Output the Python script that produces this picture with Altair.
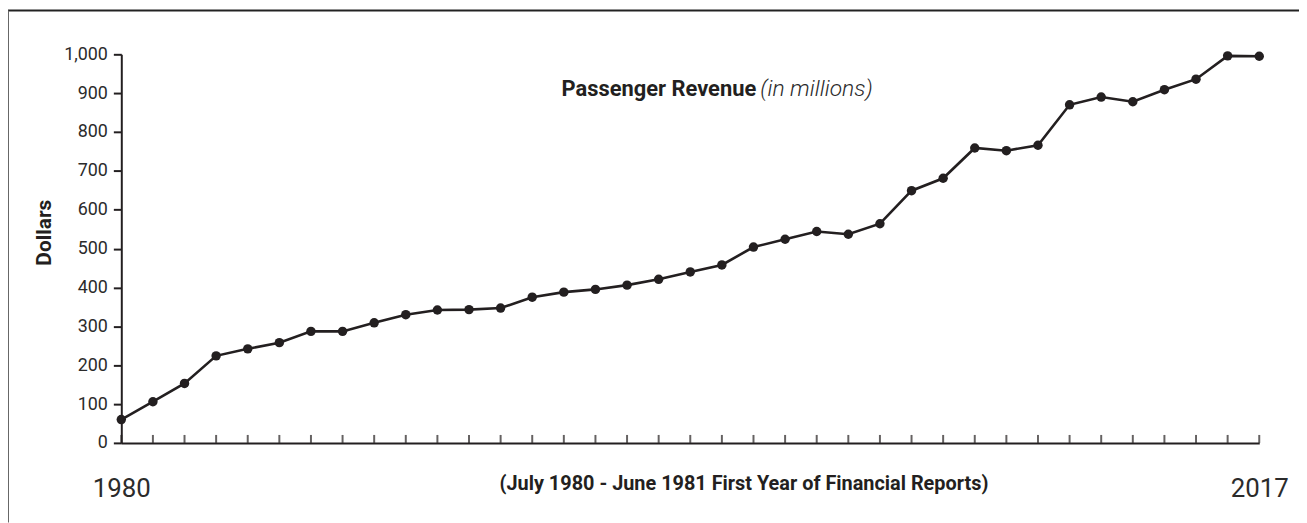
import altair as alt
import pandas as pd

# Passenger revenue (in millions of dollars), one value per fiscal year
revenue = [60, 106, 153, 224, 242, 258, 287, 287, 309, 330, 342, 343, 347,
           375, 388, 395, 406, 421, 440, 458, 504, 524, 544, 537, 564, 649,
           681, 759, 752, 766, 870, 890, 878, 909, 936, 996, 995]
period = list(range(len(revenue)))
end_labels = ["1980", "2017"]
y_ticks = [0, 100, 200, 300, 400, 500, 600, 700, 800, 900, 1000]

title_main = "Passenger Revenue"
title_sub = "(in millions)"
x_title = "(July 1980 - June 1981 First Year of Financial Reports)"
y_title = "Dollars"

INK = "#231f20"
TXT = "#2b2b2b"
FONT = "Roboto"
W, H = 1145, 391
last = period[-1]

df = pd.DataFrame({"period": period, "revenue": revenue})

x_enc = alt.X(
    "period:Q",
    scale=alt.Scale(domain=[0, last], nice=False, zero=False),
    axis=alt.Axis(
        values=[0, last],
        labelExpr=f"datum.value == 0 ? '{end_labels[0]}' : '{end_labels[1]}'",
        ticks=False, grid=False, domainColor=INK, domainWidth=2,
        labelFont=FONT, labelFontSize=26, labelFontWeight="normal", labelColor=TXT,
        labelPadding=46, labelBaseline="middle", labelFlush=False,
        title=x_title, titleX=626, titleY=41, titleAlign="center",
        titleBaseline="middle", titleFont=FONT, titleFontSize=20,
        titleFontWeight="bold", titleColor=INK,
    ),
)
y_enc = alt.Y(
    "revenue:Q",
    scale=alt.Scale(domain=[0, 1000], nice=False),
    axis=alt.Axis(
        values=y_ticks, format=",.0f", grid=False,
        tickSize=8, tickWidth=2, tickColor=INK,
        domainColor=INK, domainWidth=2,
        labelFont=FONT, labelFontSize=18, labelFontWeight="normal", labelColor=TXT,
        labelPadding=6,
        title=y_title, titleX=-77, titleY=179, titleAngle=270,
        titleAlign="center", titleBaseline="middle", titleFont=FONT,
        titleFontSize=21, titleFontWeight="bold", titleColor=INK,
    ),
)

line = alt.Chart(df).mark_line(color=INK, strokeWidth=2.6).encode(x=x_enc, y=y_enc)
dots = alt.Chart(df).mark_circle(color=INK, size=90, opacity=1).encode(x=x_enc, y=y_enc)
xticks = alt.Chart(df).mark_tick(color=INK, thickness=2, size=8).encode(
    x=x_enc, y=alt.value(H - 4)
)

one = pd.DataFrame({"t": [title_main], "s": [title_sub]})
t_main = alt.Chart(one).mark_text(
    align="left", baseline="alphabetic", font=FONT, fontSize=22, fontWeight="bold", color=INK
).encode(text="t:N", x=alt.value(443), y=alt.value(42))
t_sub = alt.Chart(one).mark_text(
    align="left", baseline="alphabetic", font=FONT, fontSize=23, fontStyle="italic",
    fontWeight=300, color=TXT
).encode(text="s:N", x=alt.value(643), y=alt.value(42))

border_top = alt.Chart(one).mark_rule(color="#222222", strokeWidth=2).encode(
    x=alt.value(-114), x2=alt.value(W + 40), y=alt.value(-44)
)
border_left = alt.Chart(one).mark_rule(color="#666666", strokeWidth=2).encode(
    x=alt.value(-114), y=alt.value(-44), y2=alt.value(H + 80)
)

chart = alt.layer(border_top, border_left, xticks, line, dots, t_main, t_sub).properties(
    width=W, height=H,
    background="white",
    autosize=alt.AutoSizeParams(type="none"),
    padding={"left": 114, "top": 45, "right": 40, "bottom": 79},
).configure_view(stroke=None)

chart.save("out.html", embed_options={"renderer": "svg", "actions": False})
